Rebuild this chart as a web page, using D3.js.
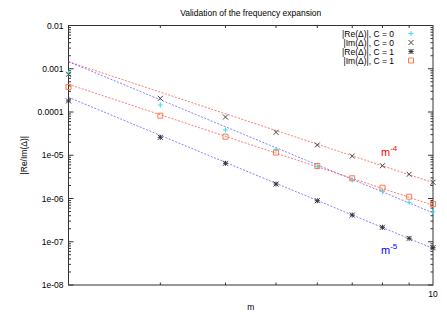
<!DOCTYPE html>
<html>
<head>
<script src="https://d3js.org/d3.v7.min.js"></script>
<style>
    body { margin: 0; background: #fff; }
    svg text { font-family: "Liberation Sans", Arial, sans-serif; fill: #000; }
    .border { fill: none; stroke: #333; stroke-width: 1; }
    .tick { stroke: #333; stroke-width: 1; }
</style>
</head>
<body>
<div id="chart"></div>
<script>
    /* data */
    var mValues = [2, 3, 4, 5, 6, 7, 8, 9, 10];

    var reC0 = [7.97e-4, 1.45e-4, 3.84e-5, 1.37e-5, 5.44e-6, 2.68e-6, 1.44e-6, 8.17e-7, 4.95e-7];
    var imC0 = [7.45e-4, 2.07e-4, 7.66e-5, 3.39e-5, 1.73e-5, 9.6e-6, 5.73e-6, 3.63e-6, 2.37e-6];
    var reC1 = [1.80e-4, 2.60e-5, 6.52e-6, 2.16e-6, 8.9e-7, 4.15e-7, 2.16e-7, 1.20e-7, 7.28e-8];
    var imC1 = [3.79e-4, 8.2e-5, 2.69e-5, 1.15e-5, 5.64e-6, 2.93e-6, 1.78e-6, 1.10e-6, 7.46e-7];

    var seriesNames = ["|Re(\u0394)|, C = 0", "|Im(\u0394)|, C = 0", "|Re(\u0394)|, C = 1", "|Im(\u0394)|, C = 1"];
    var seriesColors = ["#30e0ff", "#444", "#333", "#ff7a4a"];
    var seriesShapes = ["plus", "cross", "star", "box"];

    // power-law guides: coefficient * m^-power
    var fitCoef = [0.0233, 0.0466, 0.0070, 0.0070];
    var fitPower = [4, 5, 4, 5];
    var fitColors = ["#ff4040", "#5050ff", "#ff4040", "#5050ff"];

    var yTickValues = [0.01, 0.001, 0.0001, 1e-5, 1e-6, 1e-7, 1e-8];
    var yTickLabels = ["0.01", "0.001", "0.0001", "1e-05", "1e-06", "1e-07", "1e-08"];
    var xTickValues = [10];
    var xTickLabels = ["10"];
    /* end data */

    var width = 447, height = 313;
    var margin = {left: 68.5, right: 14, top: 25.5, bottom: 28};

    var svg = d3.select("#chart").append("svg")
                .attr("width", width)
                .attr("height", height);

    var x = d3.scaleLog().domain([2, 10]).range([margin.left, width - margin.right]);
    var y = d3.scaleLog().domain([1e-8, 0.01]).range([height - margin.bottom, margin.top]);

    var x0 = x.range()[0], x1 = x.range()[1], y0 = y.range()[0], y1 = y.range()[1];

    // title and axis labels
    svg.append("text").attr("x", (x0 + x1) / 2).attr("y", 16)
       .attr("text-anchor", "middle").style("font-size", "8.5px")
       .text("Validation of the frequency expansion");
    svg.append("text").attr("x", (x0 + x1) / 2).attr("y", 310)
       .attr("text-anchor", "middle").style("font-size", "8.5px")
       .text("m");
    svg.append("text").attr("transform", "translate(27," + ((y0 + y1) / 2) + ") rotate(-90)")
       .attr("text-anchor", "middle").style("font-size", "8.5px")
       .text("|Re/Im(\u0394)|");

    // y ticks, major and minor, mirrored on right
    var ticks = svg.append("g");
    var minorY = [];
    for (var e = -8; e < -2; e++) {
        for (var k = 2; k <= 9; k++) minorY.push(k * Math.pow(10, e));
    }
    yTickValues.forEach(function(v, i) {
        ticks.append("line").attr("class", "tick")
             .attr("x1", x0).attr("x2", x0 + 5).attr("y1", y(v)).attr("y2", y(v));
        ticks.append("line").attr("class", "tick")
             .attr("x1", x1).attr("x2", x1 - 5).attr("y1", y(v)).attr("y2", y(v));
        svg.append("text").attr("x", x0 - 5).attr("y", y(v) + 3)
           .attr("text-anchor", "end").style("font-size", "8.5px")
           .text(yTickLabels[i]);
    });
    minorY.forEach(function(v) {
        ticks.append("line").attr("class", "tick")
             .attr("x1", x0).attr("x2", x0 + 2.5).attr("y1", y(v)).attr("y2", y(v));
        ticks.append("line").attr("class", "tick")
             .attr("x1", x1).attr("x2", x1 - 2.5).attr("y1", y(v)).attr("y2", y(v));
    });

    // x ticks
    [3, 4, 5, 6, 7, 8, 9].forEach(function(v) {
        ticks.append("line").attr("class", "tick")
             .attr("x1", x(v)).attr("x2", x(v)).attr("y1", y0).attr("y2", y0 - 2.5);
        ticks.append("line").attr("class", "tick")
             .attr("x1", x(v)).attr("x2", x(v)).attr("y1", y1).attr("y2", y1 + 2.5);
    });
    xTickValues.forEach(function(v, i) {
        svg.append("text").attr("x", x(v)).attr("y", y0 + 12)
           .attr("text-anchor", "middle").style("font-size", "8.5px")
           .text(xTickLabels[i]);
    });

    // border
    svg.append("rect").attr("class", "border")
       .attr("x", x0).attr("y", y1).attr("width", x1 - x0).attr("height", y0 - y1);

    // fit lines
    var line = d3.line().x(function(d) { return x(d[0]) }).y(function(d) { return y(d[1]) });
    fitCoef.forEach(function(c, i) {
        var pts = x.domain().map(function(m) { return [m, c * Math.pow(m, -fitPower[i])] });
        svg.append("path").attr("d", line(pts))
           .attr("fill", "none")
           .attr("stroke", fitColors[i])
           .attr("stroke-opacity", 0.7)
           .attr("stroke-width", 1)
           .attr("stroke-dasharray", "2,1.5");
    });

    // markers
    function markerPath(shape) {
        var s = 2.5;
        if (shape == "plus") return "M" + (-s) + ",0H" + s + "M0," + (-s) + "V" + s;
        if (shape == "cross") return "M" + (-s) + "," + (-s) + "L" + s + "," + s + "M" + (-s) + "," + s + "L" + s + "," + (-s);
        if (shape == "star") return markerPath("plus") + markerPath("cross");
        return "M" + (-s) + "," + (-s) + "H" + s + "V" + s + "H" + (-s) + "Z";
    }

    var allSeries = [reC0, imC0, reC1, imC1];
    allSeries.forEach(function(vals, i) {
        svg.append("g").selectAll("path")
           .data(vals).enter()
           .append("path")
           .attr("transform", function(d, j) { return "translate(" + x(mValues[j]) + "," + y(d) + ")" })
           .attr("d", markerPath(seriesShapes[i]))
           .attr("fill", "none")
           .attr("stroke", seriesColors[i])
           .attr("stroke-width", 1);
    });

    // legend
    var legendY = [33.5, 42.5, 51.5, 60.5];
    seriesNames.forEach(function(name, i) {
        svg.append("text").attr("x", 394).attr("y", legendY[i] + 3)
           .attr("text-anchor", "end").style("font-size", "8.5px")
           .text(name);
        svg.append("path")
           .attr("transform", "translate(411," + legendY[i] + ")")
           .attr("d", markerPath(seriesShapes[i]))
           .attr("fill", "none")
           .attr("stroke", seriesColors[i])
           .attr("stroke-width", 1);
    });

    // power labels
    var powerLabels = [{text: "m", sup: "-4", color: "#ff0000", m: 7.95, v: 9.8e-6},
                       {text: "m", sup: "-5", color: "#0000ff", m: 7.95, v: 5.2e-8}];
    powerLabels.forEach(function(p) {
        var t = svg.append("text").attr("x", x(p.m)).attr("y", y(p.v))
                   .style("font-size", "11px").style("fill", p.color);
        t.append("tspan").text(p.text);
        t.append("tspan").attr("dy", -5).style("font-size", "8px").text(p.sup);
    });
</script>
</body>
</html>
